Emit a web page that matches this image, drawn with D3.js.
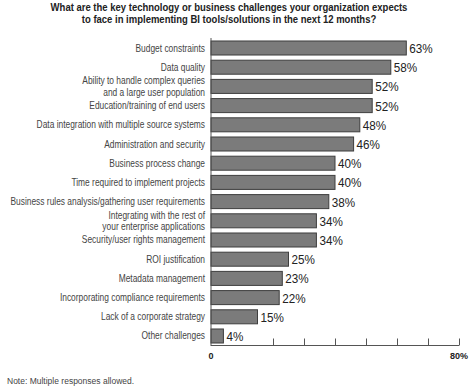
<!DOCTYPE html>
<html>
<head>
<meta charset="utf-8">
<script src="https://cdn.jsdelivr.net/npm/d3@7"></script>
<style>
  body { margin: 0; background: #fff; }
  svg { display: block; }
  .title { font-family: "Liberation Sans", Arial, sans-serif; font-weight: bold; font-size: 11px; fill: #222; }
  .cat { font-family: "Liberation Sans", Arial, sans-serif; font-size: 10.5px; fill: #444; }
  .val { font-family: "Liberation Sans", Arial, sans-serif; font-size: 13px; fill: #222; }
  .tick-lab { font-family: "Liberation Sans", Arial, sans-serif; font-weight: bold; font-size: 9px; fill: #222; }
  .note { font-family: "Liberation Sans", Arial, sans-serif; font-size: 8.5px; fill: #444; }
</style>
</head>
<body>
<div id="chart"></div>
<script>
//Datos
const categories = [
    ['Budget constraints'],
    ['Data quality'],
    ['Ability to handle complex queries', 'and a large user population'],
    ['Education/training of end users'],
    ['Data integration with multiple source systems'],
    ['Administration and security'],
    ['Business process change'],
    ['Time required to implement projects'],
    ['Business rules analysis/gathering user requirements'],
    ['Integrating with the rest of', 'your enterprise applications'],
    ['Security/user rights management'],
    ['ROI justification'],
    ['Metadata management'],
    ['Incorporating compliance requirements'],
    ['Lack of a corporate strategy'],
    ['Other challenges']
];
const values = [63, 58, 52, 52, 48, 46, 40, 40, 38, 34, 34, 25, 23, 22, 15, 4];
const tickValues = [20, 30, 40, 50, 60, 70, 80];
const axisLabels = [{v: 0, t: '0'}, {v: 80, t: '80%'}];
const titleLines = [
    'What are the key technology or business challenges your organization expects',
    'to face in implementing BI tools/solutions in the next 12 months?'
];
const noteText = 'Note: Multiple responses allowed.';

let width = 476, height = 390;

let svg = d3.select('#chart')
    .append('svg')
        .attr('width', width)
        .attr('height', height);

//Titulo (letra algo estrecha)
svg.append('g')
    .selectAll('text')
    .data(titleLines)
    .enter()
    .append('text')
    .attr('class', 'title')
    .attr('transform', function(d, i) { return 'translate(229,' + (11 + i * 11.5) + ') scale(0.865,1)'; })
    .attr('text-anchor', 'middle')
    .text(function(d) { return d; });

//Escalas
let x = d3.scaleLinear()
    .domain([0, 80])
    .range([211, 459]);

let y = d3.scaleBand()
    .domain(d3.range(values.length))
    .range([38.5, 345.5])
    .paddingInner(0.27)
    .paddingOuter(0.13);

//Barras
svg.append('g')
    .selectAll('rect')
    .data(values)
    .enter()
    .append('rect')
    .attr('x', x(0))
    .attr('y', function(d, i) { return y(i); })
    .attr('width', function(d) { return x(d) - x(0); })
    .attr('height', y.bandwidth())
    .attr('fill', '#7b7b7b')
    .attr('stroke', '#3e3e3e')
    .attr('stroke-width', 1);

//Valores
svg.append('g')
    .selectAll('text')
    .data(values)
    .enter()
    .append('text')
    .attr('class', 'val')
    .attr('transform', function(d, i) { return 'translate(' + (x(d) + 3) + ',' + (y(i) + y.bandwidth() / 2 + 5) + ') scale(0.9,1)'; })
    .text(function(d) { return d + '%'; });

//Etiquetas de categoria (condensadas)
let cats = svg.append('g')
    .selectAll('text')
    .data(categories)
    .enter()
    .append('text')
    .attr('class', 'cat')
    .attr('text-anchor', 'end')
    .attr('transform', function(d, i) { return 'translate(205,' + (y(i) + y.bandwidth() / 2 + 3.5 - (d.length - 1) * 5.75) + ') scale(0.8,1)'; });

cats.selectAll('tspan')
    .data(function(d) { return d; })
    .enter()
    .append('tspan')
    .attr('x', 0)
    .attr('dy', function(d, i) { return i == 0 ? 0 : 11.5; })
    .text(function(d) { return d; });

//Ejes
svg.append('line')
    .attr('x1', x(0)).attr('x2', x(0))
    .attr('y1', 38).attr('y2', 346)
    .attr('stroke', '#555').attr('stroke-width', 1);

let xAxis = d3.axisTop(x)
    .tickValues(tickValues)
    .tickSize(7)
    .tickFormat('');

let axisG = svg.append('g')
    .attr('transform', 'translate(0,345.5)')
    .call(xAxis);
axisG.select('.domain').attr('d', 'M' + x(0) + ',0H' + x(80)).attr('stroke', '#555');
axisG.selectAll('.tick line').attr('stroke', '#555');

svg.append('g')
    .selectAll('text')
    .data(axisLabels)
    .enter()
    .append('text')
    .attr('class', 'tick-lab')
    .attr('x', function(d) { return x(d.v); })
    .attr('y', 359)
    .attr('text-anchor', 'middle')
    .text(function(d) { return d.t; });

//Nota
svg.append('text')
    .attr('class', 'note')
    .attr('x', 7)
    .attr('y', 384)
    .text(noteText);
</script>
</body>
</html>
